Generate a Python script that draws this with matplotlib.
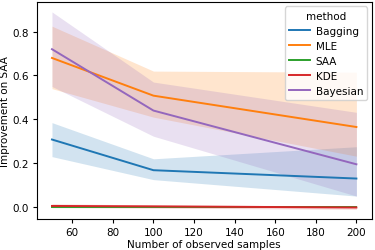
import numpy as np
import matplotlib
matplotlib.use("Agg")
import matplotlib.pyplot as plt

# =========================================================
# Data
# =========================================================

samples = [50, 100, 200]
methods = ["Bagging", "MLE", "SAA", "KDE", "Bayesian"]
colors = ["tab:blue", "tab:orange", "tab:green", "tab:red", "tab:purple"]

bagging_mean = [0.308, 0.168, 0.130]
bagging_lo = [0.230, 0.125, 0.050]
bagging_hi = [0.385, 0.220, 0.275]

mle_mean = [0.680, 0.508, 0.365]
mle_lo = [0.540, 0.410, 0.232]
mle_hi = [0.825, 0.620, 0.615]

saa_mean = [0.0, 0.0, 0.0]
saa_lo = [0.0, 0.0, 0.0]
saa_hi = [0.0, 0.0, 0.0]

kde_mean = [0.005, 0.003, -0.002]
kde_lo = [-0.003, -0.005, -0.010]
kde_hi = [0.014, 0.010, 0.005]

bayes_mean = [0.720, 0.440, 0.195]
bayes_lo = [0.550, 0.323, 0.050]
bayes_hi = [0.890, 0.570, 0.432]

means = [bagging_mean, mle_mean, saa_mean, kde_mean, bayes_mean]
lows = [bagging_lo, mle_lo, saa_lo, kde_lo, bayes_lo]
highs = [bagging_hi, mle_hi, saa_hi, kde_hi, bayes_hi]


# =========================================================
# Plot
# =========================================================

fig, ax = plt.subplots(figsize=(3.75, 2.51), dpi=100)

for name, color, m, lo, hi in zip(methods, colors, means, lows, highs):
    ax.plot(samples, m, color=color, label=name, lw=1.4)
    ax.fill_between(samples, lo, hi, color=color, alpha=0.2, lw=0)

ax.set_xlim(42.5, 207.5)
ax.set_ylim(-0.054, 0.934)
ax.set_xticks([60, 80, 100, 120, 140, 160, 180, 200])
ax.set_yticks([0.0, 0.2, 0.4, 0.6, 0.8])
ax.tick_params(labelsize=7.5, length=3, pad=2.5)
ax.set_xlabel("Number of observed samples", fontsize=7.5, labelpad=2)
ax.set_ylabel("Improvement on SAA", fontsize=7.5, labelpad=2)

ax.legend(title="method", fontsize=7.5, title_fontsize=7.5, loc="upper right",
          handlelength=2.0, handletextpad=0.6, borderaxespad=0.4,
          borderpad=0.4, labelspacing=0.48)

fig.subplots_adjust(left=0.098, right=0.991, top=0.987, bottom=0.124)
fig.savefig("out.png", dpi=100)
plt.close(fig)
